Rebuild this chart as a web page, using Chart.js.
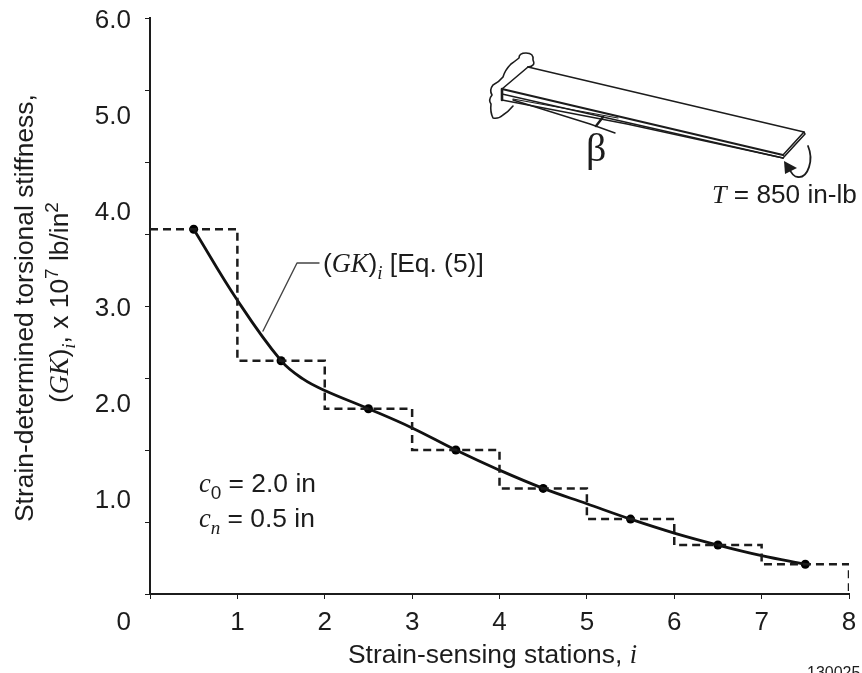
<!DOCTYPE html>
<html>
<head>
<title>Torsional stiffness</title>
<style>
html, body { margin: 0; padding: 0; background: #fff; }
#wrap { position: relative; width: 862px; height: 673px; overflow: hidden; }
canvas { display: block; }
</style>
</head>
<body>
<div id="wrap"><canvas id="stiffnessChart" width="862" height="673"></canvas></div>
<script src="https://cdn.jsdelivr.net/npm/chart.js@4"></script>
<script>
// values
const stationTicks = [0, 1, 2, 3, 4, 5, 6, 7, 8];
const stiffnessLabels = [1, 2, 3, 4, 5, 6];
const stiffnessMarks = [0, 0.75, 1.5, 2.25, 3, 3.75, 4.5, 5.25, 6];

const stepX = [0, 1, 2, 3, 4, 5, 6, 7, 8];
const stepY = [3.80, 2.43, 1.93, 1.50, 1.10, 0.78, 0.51, 0.31, 0.03];

const curveX = [0.5, 1, 1.5, 1.75, 2, 2.5, 3, 3.5, 4, 4.5, 5, 5.5, 6, 6.5, 7, 7.5];
const curveY = [3.80, 3.06, 2.43, 2.24, 2.12, 1.93, 1.73, 1.50, 1.29, 1.10, 0.94, 0.78, 0.635, 0.51, 0.40, 0.31];

const stationX = [0.5, 1.5, 2.5, 3.5, 4.5, 5.5, 6.5, 7.5];
const stationY = [3.80, 2.43, 1.93, 1.50, 1.10, 0.78, 0.51, 0.31];

const ink = '#1c1c1c';
const sansFont = '"Liberation Sans", Arial, sans-serif';
const serifFont = '"Liberation Serif", "Times New Roman", serif';

function zip(xs, ys) { return xs.map(function (x, i) { return { x: x, y: ys[i] }; }); }

// text made of runs: normal, italic, sub, sup. rot is for the y title
function drawRuns(ctx, x, y, runs, size, rot) {
  ctx.save();
  ctx.translate(x, y);
  if (rot) ctx.rotate(rot);
  ctx.fillStyle = ink;
  ctx.textAlign = 'left';
  ctx.textBaseline = 'alphabetic';
  let cx = 0;
  runs.forEach(function (r) {
    const s = r.small ? size * 0.72 : size;
    ctx.font = (r.it ? 'italic ' : '') + s + 'px ' + (r.it || r.serif ? serifFont : sansFont);
    ctx.fillText(r.t, cx, r.dy || 0);
    cx += ctx.measureText(r.t).width;
  });
  ctx.restore();
}

function strokePath(ctx, pts, w) {
  ctx.lineWidth = w;
  ctx.beginPath();
  pts.forEach(function (p, i) { if (i) ctx.lineTo(p[0], p[1]); else ctx.moveTo(p[0], p[1]); });
  ctx.stroke();
}

// the cantilever sketch and all the loose labels
const extras = {
  id: 'extras',
  afterDraw: function (chart) {
    const ctx = chart.ctx;
    ctx.save();
    ctx.strokeStyle = ink;
    ctx.lineJoin = 'round';
    ctx.lineCap = 'round';

    // leader line of the curve label
    ctx.strokeStyle = '#444';
    strokePath(ctx, [[263, 331], [297, 263], [319, 263]], 1.4);
    ctx.strokeStyle = ink;

    // wall
    ctx.beginPath();
    ctx.lineWidth = 1.6;
    ctx.moveTo(528, 67);
    ctx.quadraticCurveTo(536, 66, 533, 60);
    ctx.quadraticCurveTo(534, 53, 526, 53);
    ctx.quadraticCurveTo(519, 53, 519, 58);
    ctx.quadraticCurveTo(514, 62, 511, 64);
    ctx.quadraticCurveTo(505, 70, 503, 77);
    ctx.quadraticCurveTo(499, 82, 493, 85);
    ctx.quadraticCurveTo(489, 90, 492, 95);
    ctx.quadraticCurveTo(488, 100, 491, 104);
    ctx.quadraticCurveTo(490, 112, 493, 118);
    ctx.quadraticCurveTo(499, 119, 503, 115);
    ctx.quadraticCurveTo(508, 112, 513, 106);
    ctx.stroke();

    // beam
    strokePath(ctx, [[528, 67], [804, 132], [783, 155]], 1.6);
    strokePath(ctx, [[528, 67], [502, 89]], 1.6);
    strokePath(ctx, [[502, 89], [783, 155]], 2.2);
    strokePath(ctx, [[502, 89], [502, 100]], 2.6);
    strokePath(ctx, [[502, 94], [783, 158]], 1.3);
    strokePath(ctx, [[502, 100], [627, 124], [783, 158]], 1.3);
    strokePath(ctx, [[783, 158], [805, 134], [804, 132]], 1.6);
    // twist reference lines
    strokePath(ctx, [[513, 99], [618, 118]], 1.2);
    strokePath(ctx, [[513, 100], [590, 124], [615, 133]], 1.4);
    strokePath(ctx, [[596, 126], [603, 117]], 2.4);

    // torque arrow
    ctx.lineWidth = 1.8;
    ctx.beginPath();
    ctx.moveTo(808, 146);
    ctx.bezierCurveTo(814, 160, 808, 178, 798, 177);
    ctx.bezierCurveTo(794, 177, 791, 173, 789, 168);
    ctx.stroke();
    ctx.fillStyle = ink;
    ctx.beginPath();
    ctx.moveTo(784, 161);
    ctx.lineTo(785, 174);
    ctx.lineTo(797, 168);
    ctx.closePath();
    ctx.fill();
    ctx.restore();

    drawRuns(ctx, 586, 161, [{ t: '\u03b2', serif: true }], 40);
    drawRuns(ctx, 712, 203, [{ t: 'T', it: true }, { t: ' = 850 in-lb' }], 26.2);
    drawRuns(ctx, 323, 272, [{ t: '(' }, { t: 'GK', it: true }, { t: ')' }, { t: 'i', it: true, small: true, dy: 7 }, { t: ' [Eq. (5)]' }], 26.4);
    drawRuns(ctx, 199, 492, [{ t: 'c', it: true }, { t: '0', small: true, dy: 7 }, { t: ' = 2.0 in' }], 26.4);
    drawRuns(ctx, 199, 527, [{ t: 'c', it: true }, { t: 'n', it: true, small: true, dy: 7 }, { t: ' = 0.5 in' }], 26.4);
    drawRuns(ctx, 348, 663, [{ t: 'Strain-sensing stations, ' }, { t: 'i', it: true }], 26.4);
    drawRuns(ctx, 33, 522, [{ t: 'Strain-determined torsional stiffness,' }], 26.4, -Math.PI / 2);
    drawRuns(ctx, 68, 403, [{ t: '(' }, { t: 'GK', it: true }, { t: ')' }, { t: 'i', it: true, small: true, dy: 7 }, { t: ', x 10' }, { t: '7', small: true, dy: -10 }, { t: ' lb/in' }, { t: '2', small: true, dy: -10 }], 26.4, -Math.PI / 2);
    drawRuns(ctx, 116.5, 630, [{ t: '0' }], 26);
    drawRuns(ctx, 807, 678, [{ t: '130025' }], 16);
  }
};

new Chart(document.getElementById('stiffnessChart'), {
  type: 'scatter',
  data: {
    datasets: [
      { data: zip(stepX, stepY), showLine: true, stepped: true, borderColor: ink, borderWidth: 2.5, borderDash: [8, 5], pointRadius: 0, fill: false },
      { data: zip(curveX, curveY), showLine: true, tension: 0.4, borderColor: '#111', borderWidth: 2.8, pointRadius: 0, fill: false },
      { data: zip(stationX, stationY), showLine: false, pointRadius: 4.5, pointBackgroundColor: '#000', pointBorderWidth: 0 }
    ]
  },
  plugins: [extras],
  options: {
    responsive: false,
    animation: false,
    devicePixelRatio: 1,
    layout: { padding: { top: 18, right: 13, left: 0, bottom: 0 } },
    plugins: { legend: { display: false }, tooltip: { enabled: false } },
    scales: {
      x: {
        type: 'linear', min: 0, max: 8,
        afterFit: function (s) { s.height = 79; s.paddingLeft = 0; s.paddingRight = 0; },
        afterBuildTicks: function (s) { s.ticks = stationTicks.map(function (v) { return { value: v }; }); },
        border: { color: ink, width: 2 },
        grid: { drawOnChartArea: false, drawTicks: true, tickLength: 5, color: ink },
        ticks: {
          color: ink, padding: 8, maxRotation: 0, autoSkip: false,
          font: { family: sansFont, size: 26 },
          callback: function (v) { return v === 0 ? '' : String(v); }
        }
      },
      y: {
        type: 'linear', min: 0, max: 6,
        afterFit: function (s) { s.width = 150; s.paddingTop = 0; s.paddingBottom = 0; },
        // marks and labels do not share a spacing in the original
        afterBuildTicks: function (s) {
          const all = stiffnessMarks.concat(stiffnessLabels.filter(function (v) { return stiffnessMarks.indexOf(v) < 0; }));
          s.ticks = all.sort(function (a, b) { return a - b; }).map(function (v) { return { value: v }; });
        },
        border: { color: ink, width: 2 },
        grid: {
          drawOnChartArea: false, drawTicks: true, tickLength: 5,
          tickColor: function (c) { return stiffnessMarks.indexOf(c.tick.value) < 0 ? 'rgba(0,0,0,0)' : ink; }
        },
        ticks: {
          color: ink, padding: 14, autoSkip: false, labelOffset: 3,
          font: { family: sansFont, size: 26 },
          callback: function (v) { return stiffnessLabels.indexOf(v) < 0 ? '' : v.toFixed(1); }
        }
      }
    }
  }
});
</script>
</body>
</html>
